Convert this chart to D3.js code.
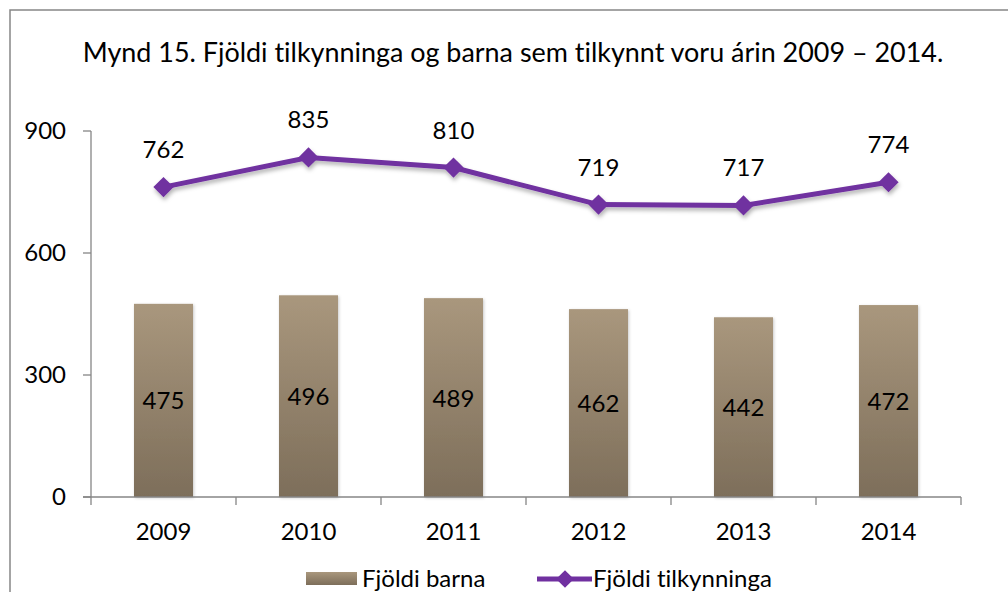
<!DOCTYPE html>
<html><head><meta charset="utf-8">
<script src="https://cdn.jsdelivr.net/npm/d3@7"></script>
<style>body{margin:0;background:#fff}svg{display:block}text{font-family:Lato,"Open Sans",sans-serif;fill:#000;font-variant-ligatures:none;font-feature-settings:"liga" 0,"dlig" 0}</style>
</head><body>
<svg id="c" width="1008" height="592"></svg>
<script>
const years = ["2009","2010","2011","2012","2013","2014"];
const barna = [475,496,489,462,442,472];
const tilkynningar = [762,835,810,719,717,774];
const yTicks = [0,300,600,900];
const title = "Mynd 15. Fjöldi tilkynninga og barna sem tilkynnt voru árin 2009 – 2014.";
const seriesNames = ["Fjöldi barna","Fjöldi tilkynninga"];

const svg = d3.select("#c");
const L=91,R=961,T=131,B=497;
const FS = "24px";
const x = d3.scaleBand().domain(years).range([L,R]).paddingInner(0.593).paddingOuter(0.2965);
const y = d3.scaleLinear().domain([0,900]).range([B,T]);
const xc = d => x(d)+x.bandwidth()/2;

const defs = svg.append("defs");
const g = defs.append("linearGradient").attr("id","bg").attr("x1",0).attr("y1",0).attr("x2",0).attr("y2",1);
g.append("stop").attr("offset","0%").attr("stop-color","#a9977d");
g.append("stop").attr("offset","100%").attr("stop-color","#7d6e5a");
const f = defs.append("filter").attr("id","sh").attr("x","-20%").attr("y","-20%").attr("width","140%").attr("height","160%");
f.append("feDropShadow").attr("dx",1).attr("dy",3).attr("stdDeviation",2).attr("flood-color","#000").attr("flood-opacity",0.3);
const fb = defs.append("filter").attr("id","shb").attr("x","-20%").attr("y","-10%").attr("width","140%").attr("height","120%");
fb.append("feDropShadow").attr("dx",1).attr("dy",1).attr("stdDeviation",1.5).attr("flood-color","#000").attr("flood-opacity",0.2);

// frame
svg.append("rect").attr("x",10).attr("y",10).attr("width",1100).attr("height",700).attr("fill","none").attr("stroke","#868686").attr("stroke-width",1.5);

// title
const tt = svg.append("text").attr("x",513).attr("y",62).attr("text-anchor","middle").style("font-size","23px").text(title);
const tw = tt.node().getComputedTextLength();
tt.style("font-size",(23*861/tw)+"px");

// bars
svg.selectAll(".bar").data(years).enter().append("rect")
  .attr("x",d=>x(d)).attr("width",x.bandwidth())
  .attr("y",(d,i)=>y(barna[i])).attr("height",(d,i)=>B-y(barna[i]))
  .attr("fill","url(#bg)").attr("filter","url(#shb)");
svg.selectAll(".bl").data(years).enter().append("text")
  .attr("x",d=>xc(d)).attr("y",(d,i)=>(y(barna[i])+B)/2+9)
  .attr("text-anchor","middle").style("font-size",FS).text((d,i)=>barna[i]);

// axes
const axG = svg.append("g").attr("stroke","#868686").attr("stroke-width",1.3).attr("fill","none");
axG.append("line").attr("x1",L).attr("x2",L).attr("y1",T).attr("y2",B+8);
axG.append("line").attr("x1",L-8).attr("x2",R).attr("y1",B).attr("y2",B);
yTicks.forEach(t=>axG.append("line").attr("x1",L-8).attr("x2",L).attr("y1",y(t)).attr("y2",y(t)));
years.forEach(d=>{const xe=x(d)+x.bandwidth()+x.step()*x.paddingInner()/2; axG.append("line").attr("x1",xe).attr("x2",xe).attr("y1",B).attr("y2",B+8);});
svg.selectAll(".yt").data(yTicks).enter().append("text").attr("x",66).attr("y",d=>y(d)+8)
  .attr("text-anchor","end").style("font-size",FS).text(d=>d);
svg.selectAll(".xt").data(years).enter().append("text").attr("x",d=>xc(d)).attr("y",540)
  .attr("text-anchor","middle").style("font-size",FS).text(d=>d);

// line
const lg = svg.append("g").attr("filter","url(#sh)");
lg.append("path").datum(years).attr("fill","none").attr("stroke","#7030a0").attr("stroke-width",5)
  .attr("d",d3.line().x(d=>xc(d)).y((d,i)=>y(tilkynningar[i])));
const diamond = d3.symbol().type(d3.symbolDiamond2).size(260);
lg.selectAll(".dm").data(years).enter().append("path")
  .attr("transform",(d,i)=>`translate(${xc(d)},${y(tilkynningar[i])})`)
  .attr("d",diamond).attr("fill","#7030a0");
svg.selectAll(".ll").data(years).enter().append("text")
  .attr("x",d=>xc(d)).attr("y",(d,i)=>y(tilkynningar[i])-29)
  .attr("text-anchor","middle").style("font-size",FS).text((d,i)=>tilkynningar[i]);

// legend
svg.append("rect").attr("x",306).attr("y",572).attr("width",51).attr("height",13).attr("fill","url(#bg)");
svg.append("text").attr("x",362).attr("y",587).style("font-size",FS).text(seriesNames[0]);
svg.append("line").attr("x1",537).attr("x2",592).attr("y1",579).attr("y2",579).attr("stroke","#7030a0").attr("stroke-width",5);
svg.append("path").attr("transform","translate(565,579)").attr("d",d3.symbol().type(d3.symbolDiamond2).size(200)).attr("fill","#7030a0");
svg.append("text").attr("x",593).attr("y",587).style("font-size",FS).text(seriesNames[1]);
</script>
</body></html>
